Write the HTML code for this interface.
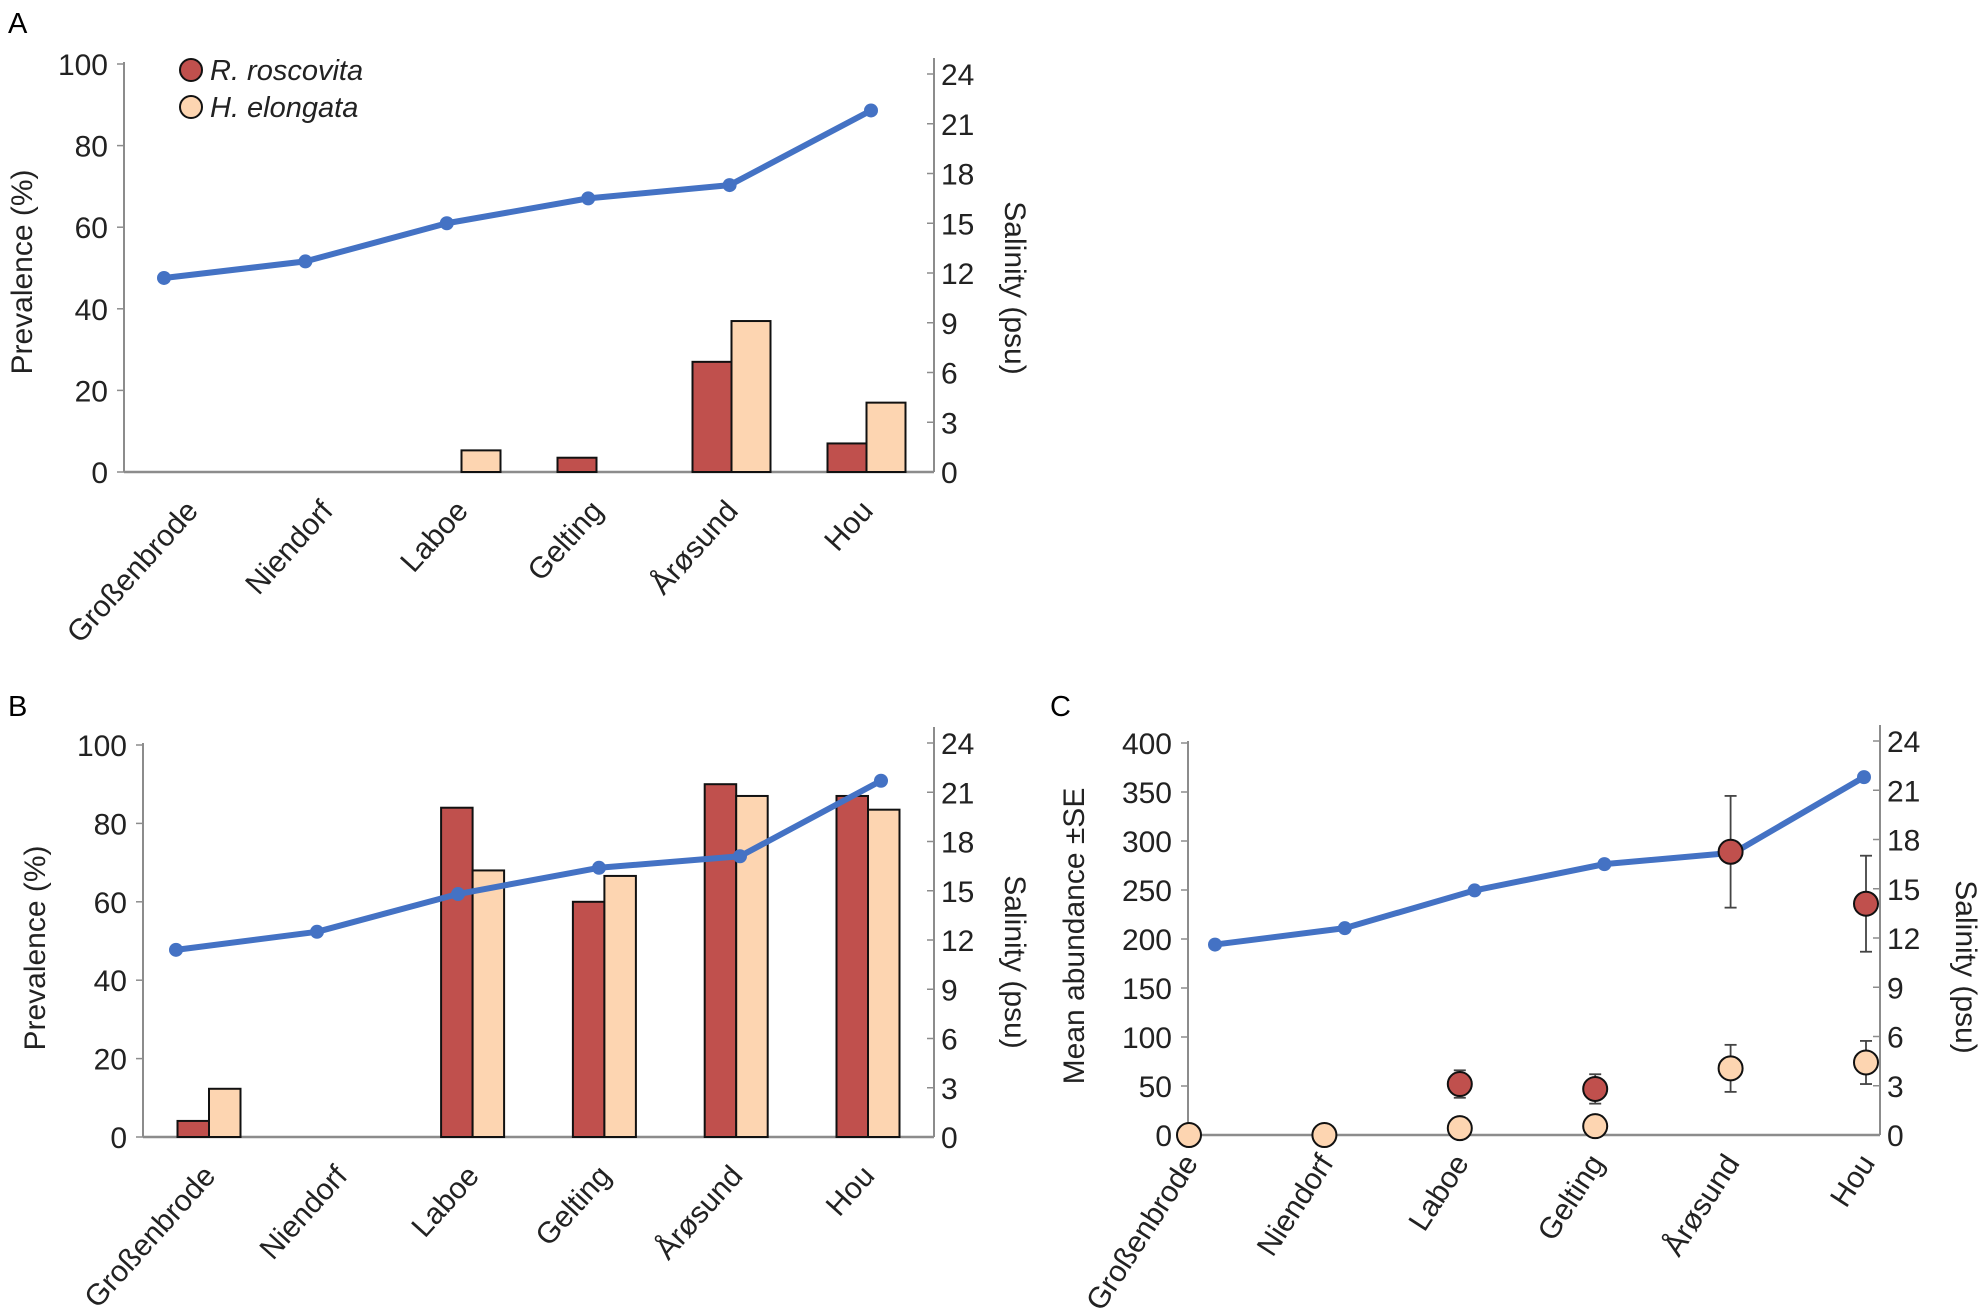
<!DOCTYPE html>
<html><head><meta charset="utf-8"><style>
html,body{margin:0;padding:0;background:#fff}
svg{display:block;font-family:"Liberation Sans",Arial,sans-serif}
</style></head><body>
<svg id="fig" width="1983" height="1311" viewBox="0 0 1983 1311" xmlns="http://www.w3.org/2000/svg"></svg>
<script>
const categories = ["Großenbrode","Niendorf","Laboe","Gelting","Årøsund","Hou"];
const prevTicks = [0,20,40,60,80,100];
const salTicks = [0,3,6,9,12,15,18,21,24];
const abTicks = [0,50,100,150,200,250,300,350,400];
const prevA_R = [0,0,0,3.5,27,7];
const prevA_H = [0,0,5.3,0,37,17];
const salA = [11.7,12.7,15.0,16.5,17.3,21.8];
const prevB_R = [4.1,0,84,60,90,87];
const prevB_H = [12.3,0,68,66.6,87,83.5];
const salB = [11.4,12.5,14.8,16.4,17.1,21.7];
const abR = [null,null,52,47,289,236];
const abR_se = [0,0,14,15,57,49];
const abH = [0,0,7,9,68,74];
const abH_se = [0,0,0,0,24,22];
const salC = [11.6,12.6,14.9,16.5,17.2,21.8];

const NS="http://www.w3.org/2000/svg";
const svg=document.getElementById('fig');
function mk(tag,attrs,parent,text){const e=document.createElementNS(NS,tag);for(const k in attrs)e.setAttribute(k,attrs[k]);if(text!==undefined)e.textContent=text;(parent||svg).appendChild(e);return e;}
const RED="#c0504d",PEACH="#fdd5b1",BLUE="#4472c4",AX="#8c8c8c";

function panel(cfg){
  const g=mk('g',{});
  
  
  const yL=v=>cfg.y0-(v-cfg.lmin)/(cfg.lmax-cfg.lmin)*(cfg.y0-cfg.yTopL);
  const yR=v=>cfg.y0-v/24*(cfg.y0-cfg.yTopR);
  const xc=i=>cfg.catX0+i*cfg.catStep;
  const xl=i=>cfg.lineX0+i*cfg.lineStep;
  const L=mk('text',{x:cfg.letterX,y:cfg.letterY,'font-size':29,fill:'#000'},g,cfg.id.toUpperCase());
  
  const la=mk('line',{x1:cfg.xL,y1:cfg.yTopL-2,x2:cfg.xL,y2:cfg.y0,stroke:AX,'stroke-width':2},g);
  
  const ra=mk('line',{x1:cfg.xR,y1:cfg.yTopR-16,x2:cfg.xR,y2:cfg.y0,stroke:AX,'stroke-width':2},g);
  
  const xa=mk('line',{x1:cfg.xL,y1:cfg.y0,x2:cfg.xR,y2:cfg.y0,stroke:AX,'stroke-width':2.5},g);
  
  cfg.lticks.forEach(v=>{
    mk('line',{x1:cfg.xL-7,y1:yL(v),x2:cfg.xL,y2:yL(v),stroke:AX,'stroke-width':1.5},g);
    const t=mk('text',{x:cfg.xL-16,y:yL(v)+11,'font-size':30,'text-anchor':'end',fill:'#222'},g,String(v));
    
  });
  salTicks.forEach(v=>{
    mk('line',{x1:cfg.xR-7,y1:yR(v),x2:cfg.xR,y2:yR(v),stroke:AX,'stroke-width':1.5},g);
    const t=mk('text',{x:cfg.xR+7,y:yR(v)+11,'font-size':30,'text-anchor':'start',fill:'#222'},g,String(v));
    
  });
  const lt=mk('text',{x:cfg.ltX,y:cfg.ltY,'font-size':30,'text-anchor':'middle',fill:'#222',transform:`rotate(-90 ${cfg.ltX} ${cfg.ltY})`},g,cfg.ltitle);
  
  const rt=mk('text',{x:cfg.rtX,y:cfg.rtY,'font-size':30,'text-anchor':'middle',fill:'#222',transform:`rotate(90 ${cfg.rtX} ${cfg.rtY})`},g,'Salinity (psu)');
  
  categories.forEach((c,i)=>{
    const x=xc(i)+cfg.labDx,y=cfg.y0+cfg.labDy;
    const t=mk('text',{x:x,y:y,'font-size':30,'text-anchor':'end',fill:'#222',transform:`rotate(${cfg.labAng} ${x} ${y})`},g,c);
    
  });
  if(cfg.barR){
    categories.forEach((c,i)=>{
      [[cfg.barR,RED,-1],[cfg.barH,PEACH,0]].forEach(([arr,col,off])=>{
        const v=arr[i]; if(!v) return;
        const r=mk('rect',{x:xc(i)+off*cfg.bw,y:yL(v),width:cfg.bw,height:cfg.y0-yL(v),fill:col,stroke:'#111','stroke-width':2},g);
        
        
      });
    });
  }
  const pts=cfg.sal.map((v,i)=>xl(i)+','+yR(v)).join(' ');
  const pl=mk('polyline',{points:pts,fill:'none',stroke:BLUE,'stroke-width':6,'stroke-linejoin':'round'},g);
  
  cfg.sal.forEach((v,i)=>{
    const c=mk('circle',{cx:xl(i),cy:yR(v),r:7,fill:BLUE},g);
    
  });
  if(cfg.scatter){
    [[abH,abH_se,PEACH,'elongata'],[abR,abR_se,RED,'roscovita']].forEach(([arr,se,col,nm])=>{
      arr.forEach((v,i)=>{
        if(v===null) return;
        if(se[i]>0){
          const e=mk('g',{},g);
          
          mk('line',{x1:xc(i),y1:yL(v+se[i]),x2:xc(i),y2:yL(v-se[i]),stroke:'#444','stroke-width':1.8},e);
          mk('line',{x1:xc(i)-6,y1:yL(v+se[i]),x2:xc(i)+6,y2:yL(v+se[i]),stroke:'#444','stroke-width':1.8},e);
          mk('line',{x1:xc(i)-6,y1:yL(v-se[i]),x2:xc(i)+6,y2:yL(v-se[i]),stroke:'#444','stroke-width':1.8},e);
        }
        const c=mk('circle',{cx:xc(i),cy:yL(v),r:12,fill:col,stroke:'#111','stroke-width':2},g);
        
      });
    });
  }
  return g;
}

panel({id:'a',letterX:8,letterY:33,xL:124,xR:934,y0:472,yTopL:64,yTopR:74,lmin:0,lmax:100,lticks:prevTicks,
  catX0:191.5,catStep:135,lineX0:164,lineStep:141.4,bw:39,barR:prevA_R,barH:prevA_H,sal:salA,
  ltitle:'Prevalence (%)',ltX:32,ltY:272,rtX:1005,rtY:288,labDx:8,labDy:40,labAng:-48});
panel({id:'b',letterX:8,letterY:716,xL:143,xR:934,y0:1137,yTopL:745,yTopR:743,lmin:0,lmax:100,lticks:prevTicks,
  catX0:209,catStep:131.8,lineX0:176,lineStep:141,bw:31.5,barR:prevB_R,barH:prevB_H,sal:salB,
  ltitle:'Prevalence (%)',ltX:45,ltY:948,rtX:1005,rtY:962,labDx:8,labDy:40,labAng:-48});
panel({id:'c',letterX:1050,letterY:716,xL:1188,xR:1880,y0:1135,yTopL:743,yTopR:741,lmin:0,lmax:400,lticks:abTicks,
  catX0:1189,catStep:135.4,lineX0:1215,lineStep:129.8,scatter:true,sal:salC,
  ltitle:'Mean abundance ±SE',ltX:1084,ltY:936,rtX:1956,rtY:967,labDx:10,labDy:28,labAng:-57});

const lg=mk('g',{});

[[RED,'R. roscovita',70],[PEACH,'H. elongata',107]].forEach(([col,txt,y])=>{
  const e=mk('g',{},lg);
  
  mk('circle',{cx:191,cy:y,r:11,fill:col,stroke:'#111','stroke-width':2},e);
  mk('text',{x:210,y:y+10,'font-size':29,'font-style':'italic',fill:'#222'},e,txt);
});
</script>
</body></html>
